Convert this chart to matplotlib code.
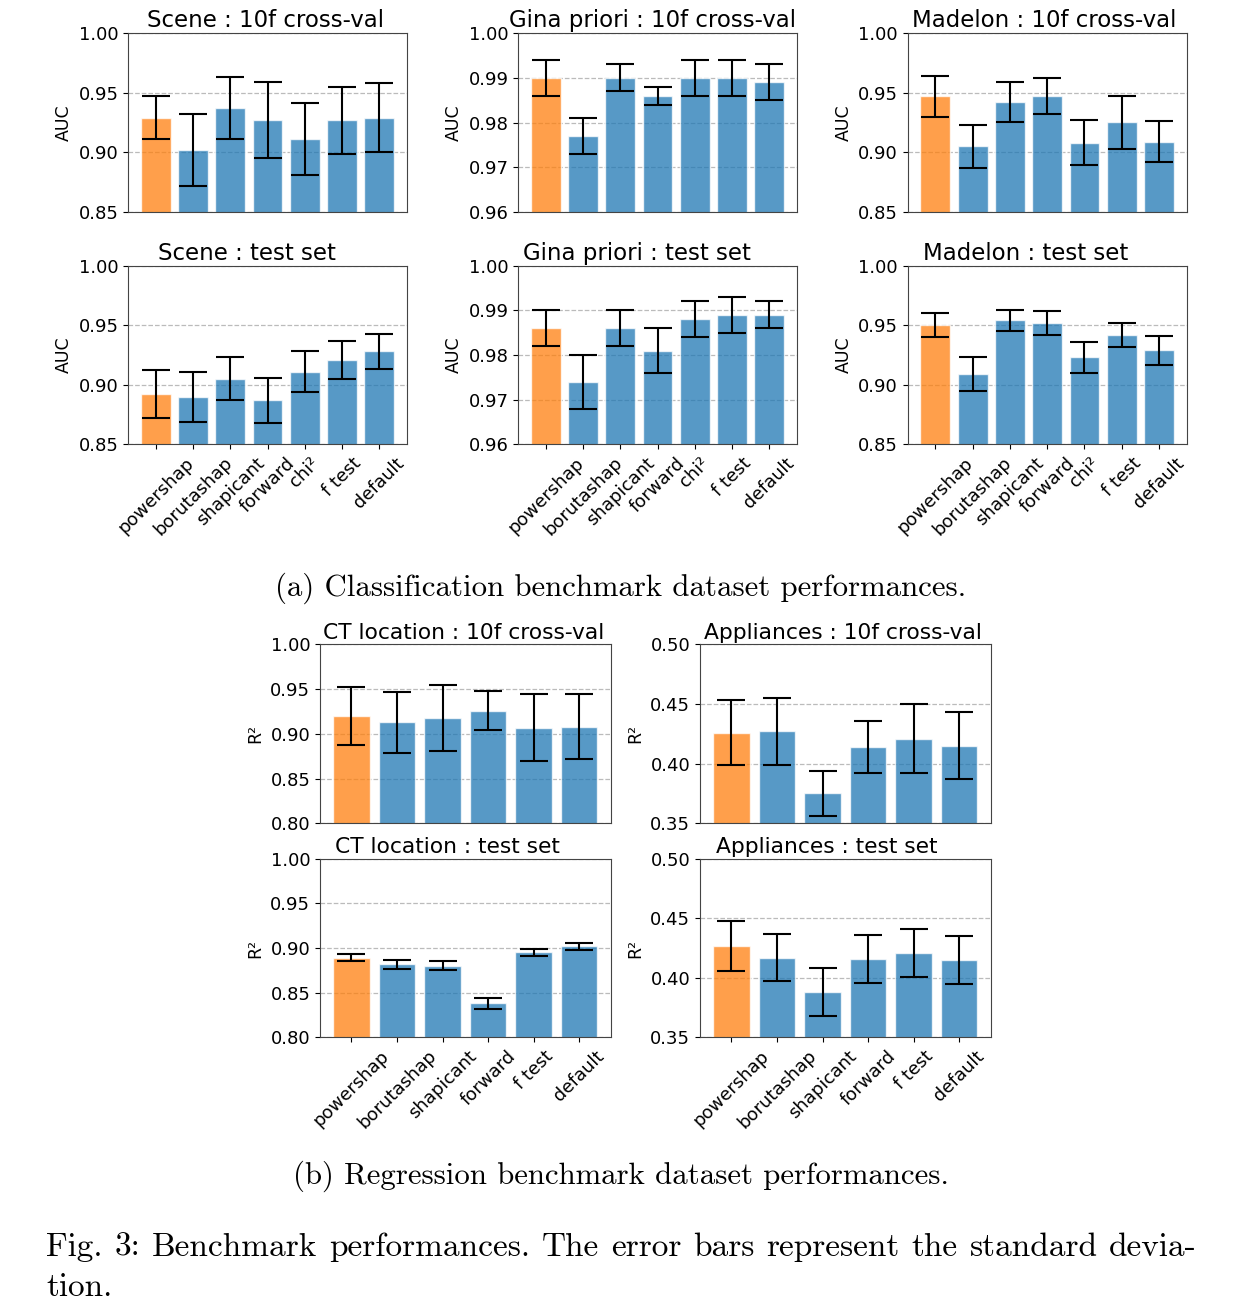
import numpy as np
import matplotlib
matplotlib.use("Agg")
import matplotlib.pyplot as plt

# methods on the x axis
methods_cls = ['powershap', 'borutashap', 'shapicant', 'forward', 'chi²', 'f test', 'default']
methods_reg = ['powershap', 'borutashap', 'shapicant', 'forward', 'f test', 'default']

# classification: mean AUC and std
scene_cv = [0.929, 0.902, 0.937, 0.927, 0.911, 0.927, 0.929]
scene_cv_std = [0.018, 0.030, 0.026, 0.032, 0.030, 0.028, 0.029]
gina_cv = [0.990, 0.977, 0.990, 0.986, 0.990, 0.990, 0.989]
gina_cv_std = [0.004, 0.004, 0.003, 0.002, 0.004, 0.004, 0.004]
madelon_cv = [0.947, 0.905, 0.942, 0.947, 0.908, 0.925, 0.909]
madelon_cv_std = [0.017, 0.018, 0.017, 0.015, 0.019, 0.022, 0.017]
scene_test = [0.892, 0.890, 0.905, 0.887, 0.911, 0.921, 0.928]
scene_test_std = [0.020, 0.021, 0.018, 0.019, 0.017, 0.016, 0.015]
gina_test = [0.986, 0.974, 0.986, 0.981, 0.988, 0.989, 0.989]
gina_test_std = [0.004, 0.006, 0.004, 0.005, 0.004, 0.004, 0.003]
madelon_test = [0.950, 0.909, 0.954, 0.952, 0.923, 0.942, 0.929]
madelon_test_std = [0.010, 0.014, 0.009, 0.010, 0.013, 0.010, 0.012]

# regression: mean R² and std
ct_cv = [0.920, 0.913, 0.918, 0.926, 0.907, 0.908]
ct_cv_std = [0.032, 0.034, 0.037, 0.022, 0.037, 0.036]
app_cv = [0.426, 0.427, 0.375, 0.414, 0.421, 0.415]
app_cv_std = [0.027, 0.028, 0.019, 0.022, 0.029, 0.028]
ct_test = [0.889, 0.882, 0.880, 0.838, 0.895, 0.902]
ct_test_std = [0.004, 0.005, 0.005, 0.006, 0.004, 0.004]
app_test = [0.427, 0.417, 0.388, 0.416, 0.421, 0.415]
app_test_std = [0.021, 0.020, 0.020, 0.020, 0.020, 0.020]

W, H = 1240, 1304
plt.rcParams['font.family'] = ['DejaVu Sans']

fig = plt.figure(figsize=(W / 100, H / 100), dpi=100)


def box(l, r, t, b):
    # pixel box -> figure fraction
    return [l / W, 1 - b / H, (r - l) / W, (b - t) / H]


def panel(rect, names, vals, stds, title, ylab, yticks, show_x, tsize=16.5, tshift=0):
    ax = fig.add_axes(rect)
    x = np.arange(len(names))
    cols = ['tab:orange'] + ['tab:blue'] * (len(names) - 1)
    ax.bar(x, vals, width=0.8, color=cols, alpha=0.75, edgecolor='white', linewidth=1.0, zorder=2)
    ax.errorbar(x, vals, yerr=stds, fmt='none', ecolor='black', elinewidth=1.5,
                capsize=10, capthick=1.5, zorder=3)
    ax.set_ylim(yticks[0], yticks[-1])
    ax.set_yticks(yticks)
    ax.set_yticklabels(['%.2f' % t for t in yticks], fontsize=13)
    ax.yaxis.grid(True, linestyle='--', color='#bbbbbb', linewidth=0.9, zorder=0)
    ax.set_axisbelow(True)
    ax.set_ylabel(ylab, fontsize=12.5)
    # title shift given in pixels
    ax.set_title(title, fontsize=tsize, pad=4, x=0.5 + tshift / (rect[2] * W))
    if show_x:
        ax.set_xticks(x)
        ax.set_xticklabels(names, rotation=45, fontsize=13)
    else:
        ax.set_xticks([])
    for s in ax.spines.values():
        s.set_color('#444444')
    return ax


yt_85 = [0.85, 0.90, 0.95, 1.00]
yt_96 = [0.96, 0.97, 0.98, 0.99, 1.00]
yt_80 = [0.80, 0.85, 0.90, 0.95, 1.00]
yt_35 = [0.35, 0.40, 0.45, 0.50]

cols_c = [(128.3, 406.7), (518.3, 796.7), (907.7, 1186.7)]
rows_c = [(33, 212), (265.7, 444.3)]

panel(box(*cols_c[0], *rows_c[0]), methods_cls, scene_cv, scene_cv_std, 'Scene : 10f cross-val', 'AUC', yt_85, False, tshift=-2)
panel(box(*cols_c[1], *rows_c[0]), methods_cls, gina_cv, gina_cv_std, 'Gina priori : 10f cross-val', 'AUC', yt_96, False, tshift=-5)
panel(box(*cols_c[2], *rows_c[0]), methods_cls, madelon_cv, madelon_cv_std, 'Madelon : 10f cross-val', 'AUC', yt_85, False, tshift=-3)
panel(box(*cols_c[0], *rows_c[1]), methods_cls, scene_test, scene_test_std, 'Scene : test set', 'AUC', yt_85, True, tshift=-21)
panel(box(*cols_c[1], *rows_c[1]), methods_cls, gina_test, gina_test_std, 'Gina priori : test set', 'AUC', yt_96, True, tshift=-21)
panel(box(*cols_c[2], *rows_c[1]), methods_cls, madelon_test, madelon_test_std, 'Madelon : test set', 'AUC', yt_85, True, tshift=-22)

cols_r = [(320, 610.7), (700, 990.7)]
rows_r = [(644.3, 823.3), (858.7, 1037.3)]

panel(box(*cols_r[0], *rows_r[0]), methods_reg, ct_cv, ct_cv_std, 'CT location : 10f cross-val', 'R²', yt_80, False, tsize=15.7, tshift=-2)
panel(box(*cols_r[1], *rows_r[0]), methods_reg, app_cv, app_cv_std, 'Appliances : 10f cross-val', 'R²', yt_35, False, tsize=15.7, tshift=-2)
panel(box(*cols_r[0], *rows_r[1]), methods_reg, ct_test, ct_test_std, 'CT location : test set', 'R²', yt_80, True, tsize=15.7, tshift=-18)
panel(box(*cols_r[1], *rows_r[1]), methods_reg, app_test, app_test_std, 'Appliances : test set', 'R²', yt_35, True, tsize=15.7, tshift=-19)

# captions (LaTeX look)
cap = dict(family='cmr10', fontsize=22.2)
fig.text(621 / W, 1 - 588 / H, '(a) Classification benchmark dataset performances.', ha='center', va='center', **cap)
fig.text(621 / W, 1 - 1176 / H, '(b) Regression benchmark dataset performances.', ha='center', va='center', **cap)

# justified first line of the figure caption
cap2 = dict(family='cmr10', fontsize=24)
line1 = 'Fig. 3: Benchmark performances. The error bars represent the standard devia-'.split(' ')
renderer = fig.canvas.get_renderer()
words = [fig.text(0, 1 - 1247 / H, w, ha='left', va='center', **cap2) for w in line1]
widths = [t.get_window_extent(renderer).width for t in words]
x0, x1 = 46, 1197
gap = (x1 - x0 - sum(widths)) / (len(words) - 1)
xp = x0
for t, w in zip(words, widths):
    t.set_x(xp / W)
    xp += w + gap
fig.text(46 / W, 1 - 1287 / H, 'tion.', ha='left', va='center', **cap2)

fig.savefig('out.png', dpi=100)
